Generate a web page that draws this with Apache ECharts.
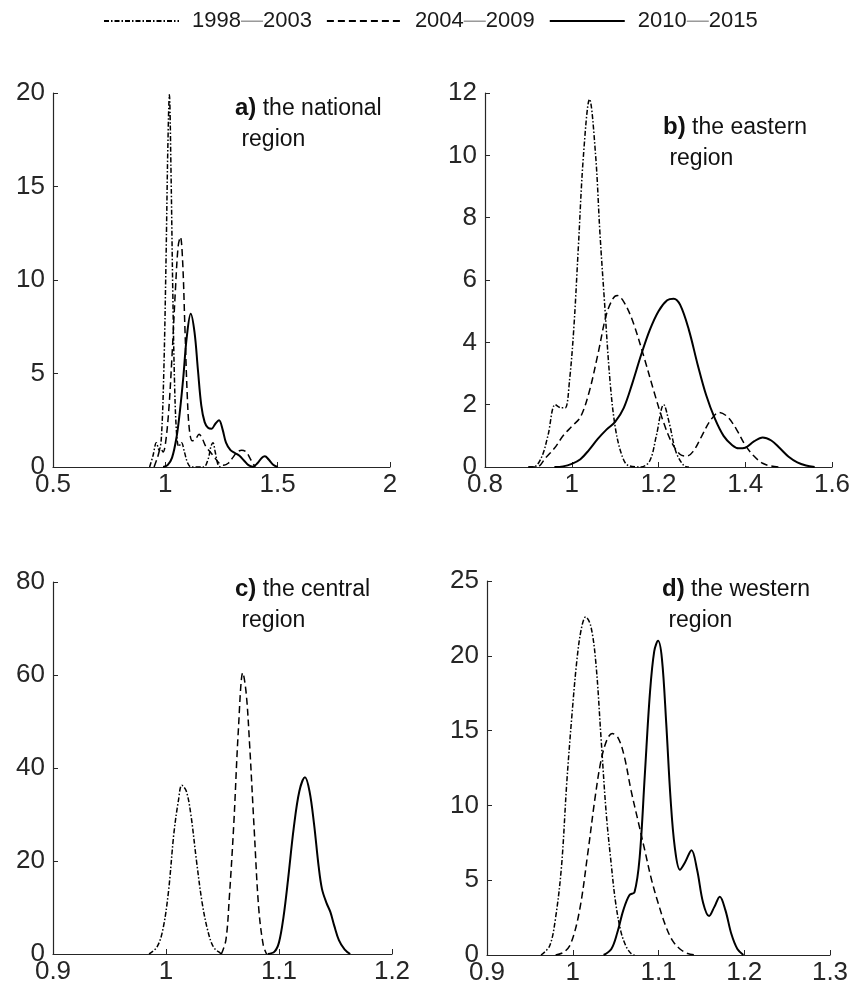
<!DOCTYPE html>
<html>
<head>
<meta charset="utf-8">
<script src="https://cdn.jsdelivr.net/npm/echarts@6/dist/echarts.min.js"></script>
<style>
html, body { margin: 0; padding: 0; background: #fff; }
#chart { width: 860px; height: 994px; }
</style>
</head>
<body>
<div id="chart"></div>
<script>
// periods (legend entries)
const periods = ['1998—2003', '2004—2009', '2010—2015'];

// a) the national region  [x, density]
const aEarly = [[0.93,0],[0.945,0.6],[0.96,1.3],[0.972,0.9],[0.982,1.5],[0.993,5],[1.003,11],[1.011,17],[1.018,19.9],[1.025,16],[1.033,9.5],[1.041,4.5],[1.05,1.8],[1.06,1.1],[1.072,1.3],[1.085,0.8],[1.1,0.2],[1.115,0],[1.17,0],[1.19,0.4],[1.203,1.1],[1.212,1.3],[1.222,0.8],[1.235,0.1],[1.245,0]];
const aMid = [[0.95,0],[0.965,0.5],[0.98,1.0],[0.99,0.8],[1.0,1.2],[1.015,3.0],[1.03,6.0],[1.045,9.5],[1.057,11.8],[1.067,12.3],[1.077,11.0],[1.087,7.5],[1.097,4.0],[1.107,2.0],[1.12,1.4],[1.135,1.5],[1.15,1.75],[1.165,1.5],[1.18,1.1],[1.2,0.8],[1.22,0.5],[1.24,0.2],[1.26,0.1],[1.28,0.2],[1.3,0.5],[1.32,0.8],[1.34,0.9],[1.36,0.8],[1.38,0.4],[1.4,0]];
const aLate = [[0.99,0],[1.01,0.1],[1.03,0.5],[1.05,1.6],[1.065,3.0],[1.08,4.8],[1.095,6.9],[1.113,8.2],[1.13,7.2],[1.145,5.2],[1.16,3.3],[1.175,2.4],[1.19,2.1],[1.206,2.05],[1.222,2.3],[1.239,2.5],[1.255,2.0],[1.27,1.3],[1.29,0.9],[1.31,0.75],[1.33,0.6],[1.35,0.35],[1.37,0.1],[1.39,0.02],[1.41,0.2],[1.43,0.5],[1.443,0.57],[1.46,0.4],[1.48,0.12],[1.5,0]];

// b) the eastern region
const bEarly = [[0.9,0],[0.912,0],[0.93,0.3],[0.945,1.0],[0.962,2.0],[0.975,1.9],[0.985,1.9],[0.995,2.8],[1.005,4.5],[1.015,7],[1.027,10],[1.041,11.8],[1.055,10],[1.065,7.5],[1.075,5.4],[1.088,2.8],[1.1,1.3],[1.115,0.4],[1.13,0.05],[1.16,0],[1.18,0.2],[1.195,1.0],[1.212,2.0],[1.225,1.4],[1.24,0.5],[1.258,0.05],[1.27,0]];
const bMid = [[0.9,0],[0.92,0],[0.94,0.3],[0.96,0.6],[0.98,1.0],[1.0,1.3],[1.02,1.6],[1.04,2.4],[1.06,3.6],[1.08,4.9],[1.095,5.4],[1.105,5.5],[1.12,5.3],[1.14,4.7],[1.165,3.6],[1.19,2.4],[1.21,1.5],[1.23,0.8],[1.25,0.4],[1.265,0.35],[1.28,0.5],[1.3,1.0],[1.32,1.5],[1.34,1.75],[1.36,1.6],[1.38,1.2],[1.4,0.7],[1.42,0.35],[1.44,0.12],[1.46,0.03],[1.48,0]];
const bLate = [[0.96,0],[0.98,0.02],[1.0,0.1],[1.02,0.25],[1.04,0.55],[1.06,0.9],[1.08,1.2],[1.1,1.45],[1.12,1.9],[1.14,2.7],[1.16,3.6],[1.18,4.4],[1.2,5.0],[1.22,5.35],[1.235,5.4],[1.25,5.2],[1.27,4.4],[1.29,3.3],[1.31,2.3],[1.33,1.55],[1.35,1.0],[1.37,0.7],[1.385,0.6],[1.4,0.62],[1.42,0.82],[1.44,0.95],[1.46,0.85],[1.48,0.6],[1.5,0.33],[1.52,0.15],[1.54,0.05],[1.56,0]];

// c) the central region
const cEarly = [[0.985,0],[0.992,1.5],[0.997,5],[1.002,13],[1.007,26],[1.011,33],[1.014,36.3],[1.018,35],[1.022,30],[1.027,20],[1.032,11],[1.037,5],[1.042,1.5],[1.048,0.2],[1.05,0]];
const cMid = [[1.049,0],[1.053,3],[1.056,12],[1.06,28],[1.064,48],[1.068,60.5],[1.071,56],[1.074,45],[1.078,27],[1.082,10],[1.086,2],[1.089,0]];
const cLate = [[1.09,0],[1.096,0.5],[1.1,2.5],[1.104,8],[1.108,16],[1.113,27],[1.118,35],[1.123,38],[1.127,35],[1.131,28],[1.135,19],[1.138,14],[1.142,11],[1.1455,9],[1.149,6],[1.153,3],[1.158,1],[1.163,0]];

// d) the western region
const dEarly = [[0.963,0],[0.973,0.6],[0.98,2.5],[0.987,6],[0.993,11.5],[0.999,16],[1.005,19.8],[1.01,21.8],[1.015,22.6],[1.021,22],[1.027,19.5],[1.033,14.5],[1.039,9.5],[1.045,6],[1.05,3.5],[1.056,1.6],[1.062,0.6],[1.068,0.1],[1.072,0]];
const dMid = [[0.98,0],[0.99,0.2],[0.998,0.8],[1.008,3],[1.018,7],[1.026,10.5],[1.033,13],[1.04,14.4],[1.046,14.8],[1.053,14.5],[1.06,13.3],[1.068,11],[1.076,9],[1.084,7],[1.092,5],[1.1,3.4],[1.108,2],[1.116,1.0],[1.125,0.4],[1.134,0.1],[1.144,0]];
const dLate = [[1.036,0],[1.045,0.4],[1.052,1.5],[1.059,3],[1.066,4],[1.072,4.2],[1.078,6.5],[1.084,12],[1.09,17.5],[1.095,20.3],[1.0995,21],[1.104,19.8],[1.109,15.5],[1.114,10.5],[1.119,7.2],[1.125,5.7],[1.131,6.2],[1.1385,7],[1.145,5.7],[1.152,3.5],[1.159,2.6],[1.165,3.2],[1.1715,3.9],[1.178,3.0],[1.185,1.4],[1.192,0.4],[1.199,0]];

// axis ranges [min, max, interval]
const xRanges = [[0.5, 2, 0.5], [0.8, 1.6, 0.2], [0.9, 1.2, 0.1], [0.9, 1.3, 0.1]];
const yRanges = [[0, 20, 5], [0, 12, 2], [0, 80, 20], [0, 25, 5]];
const panelLetters = ['a)', 'b)', 'c)', 'd)'];
const panelNames = ['the national', 'the eastern', 'the central', 'the western'];

const panels = [
  [aEarly, aMid, aLate],
  [bEarly, bMid, bLate],
  [cEarly, cMid, cLate],
  [dEarly, dMid, dLate]
];

const font = '"Liberation Sans", Arial, Helvetica, sans-serif';
const axisColor = '#262626';

const grids = [
  { left: 53, top: 93, width: 337, height: 374 },
  { left: 485, top: 93, width: 347, height: 374 },
  { left: 53, top: 582, width: 339, height: 372 },
  { left: 487, top: 581, width: 343, height: 374 }
];
const notePos = [[235, 93], [663, 112], [235, 574], [662, 574]];

const lineStyles = [
  { type: [5, 2, 1.5, 2], width: 1.5 },
  { type: [7, 4], width: 1.5 },
  { type: 'solid', width: 2 }
];

function axisBase(i) {
  return {
    type: 'value',
    gridIndex: i,
    axisLine: { show: true, lineStyle: { color: axisColor, width: 1.2 } },
    axisTick: { show: true, inside: true, length: 5, lineStyle: { color: axisColor } },
    splitLine: { show: false },
    axisLabel: { color: axisColor, fontSize: 26, fontFamily: font, showMinLabel: true, showMaxLabel: true }
  };
}

const xAxes = xRanges.map((r, i) => {
  const ax = axisBase(i);
  ax.min = r[0]; ax.max = r[1]; ax.interval = r[2];
  ax.axisLabel.margin = 5;
  return ax;
});
const yAxes = yRanges.map((r, i) => {
  const ax = axisBase(i);
  ax.min = r[0]; ax.max = r[1]; ax.interval = r[2];
  ax.axisLabel.margin = 8;
  return ax;
});

const series = [];
panels.forEach((sets, i) => {
  sets.forEach((d, k) => {
    series.push({
      name: periods[k],
      type: 'line',
      xAxisIndex: i,
      yAxisIndex: i,
      data: d,
      smooth: 0.35,
      symbol: 'none',
      lineStyle: Object.assign({ color: '#000' }, lineStyles[k]),
      itemStyle: { color: '#000' },
      z: 3 - k
    });
  });
});

const chart = echarts.init(document.getElementById('chart'));
chart.setOption({
  animation: false,
  backgroundColor: '#fff',
  legend: {
    show: true,
    left: 98,
    top: 5,
    itemWidth: 75,
    itemHeight: 14,
    itemGap: 14,
    data: periods,
    itemStyle: { opacity: 0 },
    formatter: function (name) { return name.replace('—', '{g|—}'); },
    textStyle: {
      fontSize: 22,
      fontFamily: font,
      color: '#1a1a1a',
      padding: [0, 0, 0, 8],
      rich: { g: { color: '#9a9a9a', fontSize: 22, fontFamily: font } }
    }
  },
  grid: grids,
  xAxis: xAxes,
  yAxis: yAxes,
  series: series,
  graphic: notePos.map((p, i) => ({
    type: 'text',
    left: p[0],
    top: p[1],
    style: {
      text: '{b|' + panelLetters[i] + '} ' + panelNames[i] + '\n region',
      fontSize: 23,
      fontFamily: font,
      fill: '#111',
      lineHeight: 31,
      rich: { b: { fontWeight: 'bold', fontSize: 24, fontFamily: font, lineHeight: 31, fill: '#111' } }
    }
  }))
});
</script>
</body>
</html>
